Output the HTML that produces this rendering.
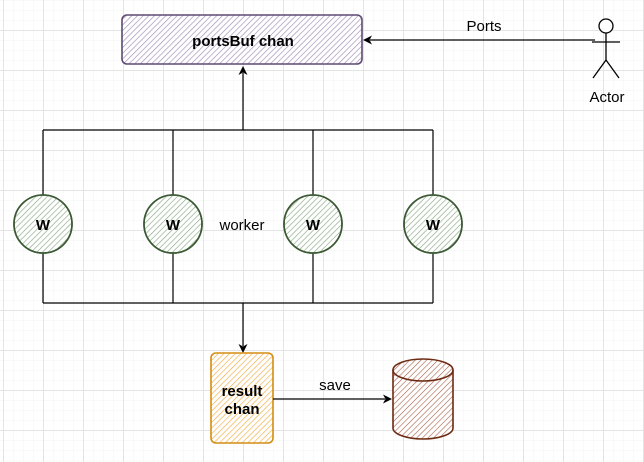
<!DOCTYPE html>
<html><head><meta charset="utf-8"><style>
html,body{margin:0;padding:0;background:#fff;}
svg{display:block;}
text{font-family:"Liberation Sans",Arial,sans-serif;}
</style></head><body>
<svg width="644" height="462" viewBox="0 0 644 462" xmlns="http://www.w3.org/2000/svg">
<defs>
<pattern id="g1" width="10" height="10" patternUnits="userSpaceOnUse" x="3" y="0">
<path d="M0 0V10M0 0H10" stroke="#f3f3f3" stroke-width="1" fill="none"/></pattern>
<pattern id="g2" width="40" height="40" patternUnits="userSpaceOnUse" x="3" y="30">
<path d="M0.5 0V40M0 0.5H40" stroke="#e4e4e4" stroke-width="1" fill="none"/></pattern>
<pattern id="hp" width="4" height="4" patternUnits="userSpaceOnUse" patternTransform="rotate(45)"><line x1="0" y1="0" x2="0" y2="4" stroke="#a08cb5" stroke-width="1.3"/></pattern>
<pattern id="hg" width="4" height="4" patternUnits="userSpaceOnUse" patternTransform="rotate(45)"><line x1="0" y1="0" x2="0" y2="4" stroke="#8aa884" stroke-width="1.3"/></pattern>
<pattern id="ho" width="4" height="4" patternUnits="userSpaceOnUse" patternTransform="rotate(45)"><line x1="0" y1="0" x2="0" y2="4" stroke="#f2ac45" stroke-width="1.3"/></pattern>
<pattern id="hb" width="4" height="4" patternUnits="userSpaceOnUse" patternTransform="rotate(45)"><line x1="0" y1="0" x2="0" y2="4" stroke="#a8604a" stroke-width="1.2"/></pattern>
</defs>
<rect width="644" height="462" fill="url(#g1)"/>
<rect width="644" height="462" fill="url(#g2)"/>

<rect x="122" y="15" width="240" height="49" rx="5" fill="#fff"/>
<rect x="122" y="15" width="240" height="49" rx="5" fill="url(#hp)" stroke="#5e4a73" stroke-width="1.6"/>
<text x="243" y="46" font-size="15" font-weight="bold" text-anchor="middle">portsBuf chan</text>

<line x1="595" y1="40" x2="370" y2="40" stroke="#000" stroke-width="1.2"/>
<path d="M363 40l9-4.5-2.5 4.5 2.5 4.5z" fill="#000"/>
<text x="484" y="31" font-size="15" text-anchor="middle">Ports</text>

<g stroke="#000" stroke-width="1.3" fill="none">
<circle cx="606" cy="26" r="7" fill="#fff"/>
<line x1="606" y1="33" x2="606" y2="60"/>
<line x1="592" y1="42" x2="620" y2="42"/>
<line x1="606" y1="60" x2="593" y2="78"/>
<line x1="606" y1="60" x2="619" y2="78"/>
</g>
<text x="607" y="102" font-size="15" text-anchor="middle">Actor</text>

<line x1="243" y1="130" x2="243" y2="73" stroke="#000" stroke-width="1.2"/>
<path d="M243 66l4.5 9-4.5-2.5-4.5 2.5z" fill="#000"/>

<g stroke="#000" stroke-width="1.2" fill="none">
<line x1="43" y1="130" x2="433" y2="130"/>
<line x1="43" y1="303" x2="433" y2="303"/>
<line x1="43" y1="130" x2="43" y2="303"/>
<line x1="173" y1="130" x2="173" y2="303"/>
<line x1="313" y1="130" x2="313" y2="303"/>
<line x1="433" y1="130" x2="433" y2="303"/>
<line x1="243" y1="303" x2="243" y2="346"/>
</g>
<path d="M243 353l-4.5-9 4.5 2.5 4.5-2.5z" fill="#000"/>

<g stroke="#3b5a34" stroke-width="1.6">
<circle cx="43" cy="224" r="29" fill="#fff"/><circle cx="43" cy="224" r="29" fill="url(#hg)"/>
<circle cx="173" cy="224" r="29" fill="#fff"/><circle cx="173" cy="224" r="29" fill="url(#hg)"/>
<circle cx="313" cy="224" r="29" fill="#fff"/><circle cx="313" cy="224" r="29" fill="url(#hg)"/>
<circle cx="433" cy="224" r="29" fill="#fff"/><circle cx="433" cy="224" r="29" fill="url(#hg)"/>
</g>
<g font-size="15" font-weight="bold" text-anchor="middle">
<text x="43" y="230">W</text><text x="173" y="230">W</text><text x="313" y="230">W</text><text x="433" y="230">W</text>
</g>
<text x="242" y="230" font-size="15" text-anchor="middle">worker</text>

<rect x="211" y="353" width="62" height="90" rx="5" fill="#fff"/>
<rect x="211" y="353" width="62" height="90" rx="5" fill="url(#ho)" stroke="#d48e12" stroke-width="1.6"/>
<text x="242" y="396" font-size="15" font-weight="bold" text-anchor="middle">result</text>
<text x="242" y="414" font-size="15" font-weight="bold" text-anchor="middle">chan</text>

<line x1="273" y1="399" x2="385" y2="399" stroke="#000" stroke-width="1.2"/>
<path d="M392 399l-9 4.5 2.5-4.5-2.5-4.5z" fill="#000"/>
<text x="335" y="390" font-size="15" text-anchor="middle">save</text>

<path d="M393 370v58a30 11 0 0 0 60 0v-58" fill="#fff"/>
<path d="M393 370v58a30 11 0 0 0 60 0v-58a30 11 0 0 0 -60 0z" fill="url(#hb)" stroke="#6e2a12" stroke-width="1.6"/>
<path d="M393 370a30 11 0 0 0 60 0" fill="none" stroke="#6e2a12" stroke-width="1.6"/>
</svg>
</body></html>
